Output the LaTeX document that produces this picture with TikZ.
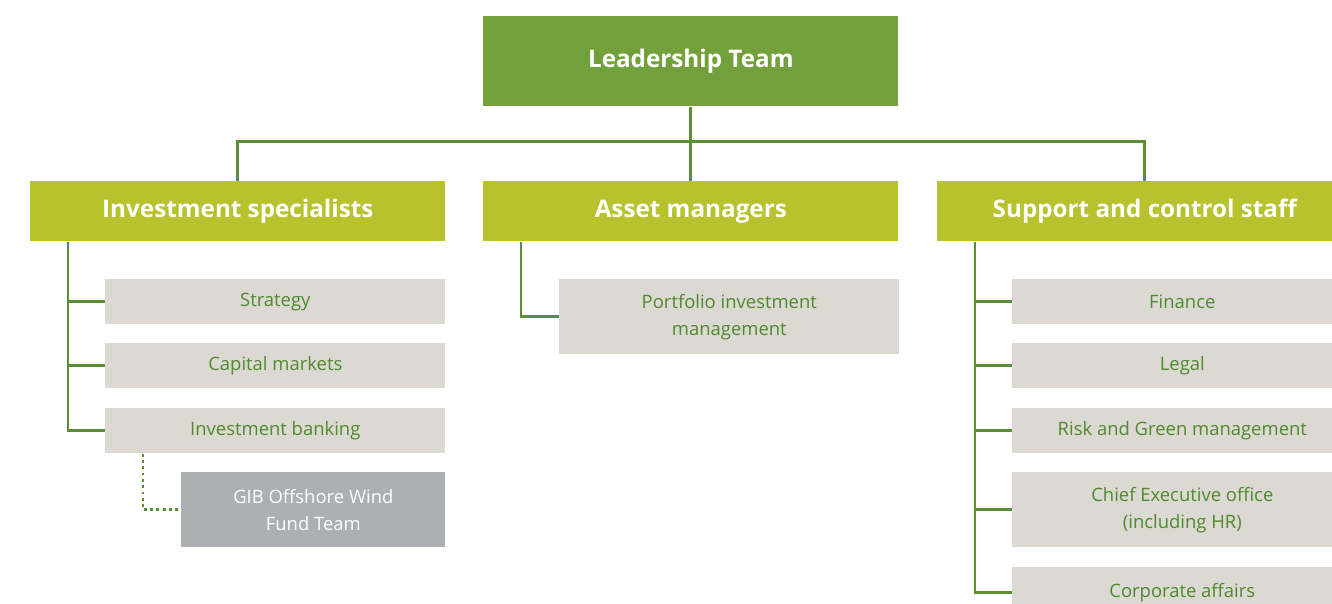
\documentclass[tikz,border=0pt]{standalone}
\usepackage{fontspec}
\setmainfont{Open Sans}
\usepackage{xcolor}
\definecolor{leadgreen}{HTML}{72A13C}
\definecolor{limegreen}{HTML}{B8C22C}
\definecolor{boxgrey}{HTML}{DCD9D2}
\definecolor{teamgrey}{HTML}{ACB0B2}
\definecolor{textgreen}{HTML}{4E8A2E}
\definecolor{linegreen}{HTML}{5B8F36}
\tikzset{
	box/.style={anchor=north west, inner sep=0pt, align=center},
	head/.style={box, fill=limegreen, text=white, font=\fontsize{13.8}{16}\selectfont\bfseries, minimum height=1.2cm},
	unit/.style={box, fill=boxgrey, text=textgreen, font=\fontsize{10.5}{15.3}\selectfont, minimum height=0.9cm},
	link/.style={draw=linegreen, line width=1.6pt}
}
\begin{document}
\begin{tikzpicture}[x=0.02cm, y=-0.02cm]
	%\draw[help lines] (0,0) grid (1332,603);
	\useasboundingbox (0,0) rectangle (1332,603);
	
	\node[head, fill=leadgreen, minimum width=8.3cm, minimum height=1.8cm] (lead) at (483,16) {Leadership Team};
	\node[head, minimum width=8.3cm] (invest) at (30,181) {Investment specialists};
	\node[head, minimum width=8.3cm] (asset) at (483,181) {Asset managers};
	\node[head, minimum width=8.3cm] (support) at (937,181) {Support and control staff};
	
	\node[unit, minimum width=6.8cm] (strat) at (105,279) {Strategy};
	\node[unit, minimum width=6.8cm] (capmkt) at (105,343) {Capital markets};
	\node[unit, minimum width=6.8cm] (invbank) at (105,408) {Investment banking};
	\node[unit, fill=teamgrey, text=white, minimum width=5.28cm, minimum height=1.5cm] (gib) at (181,472) {GIB Offshore Wind\\Fund Team};
	
	\node[unit, minimum width=6.8cm, minimum height=1.5cm] (portfolio) at (559,279) {Portfolio investment\\management};
	
	\node[unit, minimum width=6.8cm] (finance) at (1012,279) {Finance};
	\node[unit, minimum width=6.8cm] (legal) at (1012,343) {Legal};
	\node[unit, minimum width=6.8cm] (risk) at (1012,408) {Risk and Green management};
	\node[unit, minimum width=6.8cm, minimum height=1.5cm] (ceo) at (1012,472) {Chief Executive office\\(including HR)};
	\node[unit, minimum width=6.8cm, minimum height=1cm] (corp) at (1012,567) {Corporate affairs};
	
	\coordinate (ls) at ([xshift=0.76cm]invest.south west);
	\coordinate (ms) at ([xshift=0.76cm]asset.south west);
	\coordinate (rs) at ([xshift=0.76cm]support.south west);
	\coordinate (ds) at ([xshift=0.76cm]invbank.south west);
	
	\draw[link] (lead.south) -- ++(0,35) -| (invest.north);
	\draw[link] (lead.south) -- ++(0,35) -| (support.north);
	\draw[link] (lead.south) -- (asset.north);
	\foreach \n in {strat,capmkt,invbank}{\draw[link] (ls) |- (\n.west);}
	\draw[link] (ms) |- (portfolio.west);
	\foreach \n in {finance,legal,risk,ceo,corp}{\draw[link] (rs) |- (\n.west);}
	\draw[draw=linegreen, line width=1.6pt, dotted] (ds) |- (gib.west);
\end{tikzpicture}
\end{document}
